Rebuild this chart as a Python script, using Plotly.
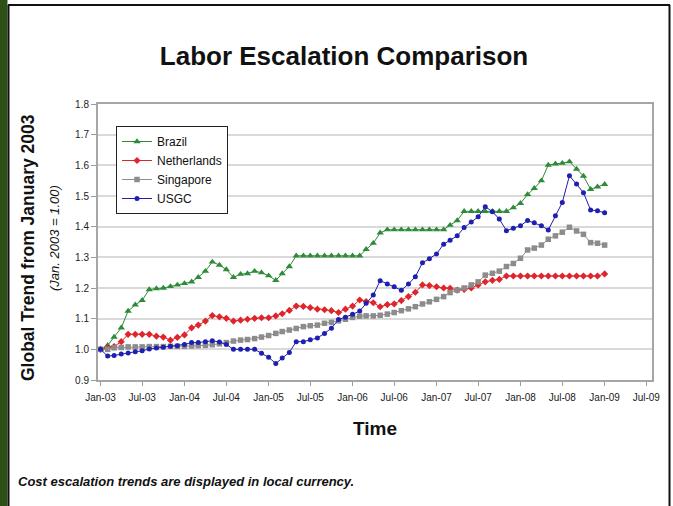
import pandas as pd
import plotly.graph_objects as go

# Monthly observations, Jan-2003 .. Jan-2009 (index: Jan. 2003 = 1.00)
months = pd.date_range("2003-01-01", "2009-01-01", freq="MS")

brazil = [
    1.000, 1.013, 1.040, 1.070, 1.125, 1.145, 1.160, 1.195, 1.198, 1.200, 1.205, 1.210,
    1.215, 1.220, 1.235, 1.255, 1.285, 1.275, 1.260, 1.235, 1.245, 1.247, 1.255, 1.250,
    1.240, 1.225, 1.247, 1.270, 1.305, 1.305, 1.305, 1.305, 1.305, 1.305, 1.305, 1.305,
    1.305, 1.305, 1.326, 1.346, 1.380, 1.390, 1.390, 1.390, 1.390, 1.390, 1.390, 1.390,
    1.390, 1.390, 1.405, 1.420, 1.450, 1.450, 1.450, 1.450, 1.450, 1.450, 1.450, 1.462,
    1.476, 1.505, 1.525, 1.550, 1.601, 1.605, 1.607, 1.612, 1.588, 1.565, 1.522, 1.530,
    1.538,
]
netherlands = [
    1.000, 1.006, 1.009, 1.025, 1.049, 1.049, 1.049, 1.049, 1.043, 1.040, 1.030, 1.039,
    1.047, 1.070, 1.079, 1.092, 1.110, 1.106, 1.101, 1.092, 1.095, 1.098, 1.101, 1.103,
    1.103, 1.109, 1.116, 1.127, 1.141, 1.140, 1.136, 1.131, 1.129, 1.126, 1.120, 1.131,
    1.141, 1.161, 1.156, 1.152, 1.139, 1.146, 1.148, 1.159, 1.172, 1.186, 1.210, 1.208,
    1.204, 1.200, 1.199, 1.193, 1.195, 1.200, 1.210, 1.220, 1.225, 1.228, 1.239, 1.239,
    1.239, 1.239, 1.239, 1.239, 1.239, 1.239, 1.239, 1.239, 1.239, 1.239, 1.239, 1.239,
    1.246,
]
singapore = [
    1.000, 1.000, 1.005, 1.006, 1.008, 1.008, 1.008, 1.009, 1.009, 1.009, 1.010, 1.010,
    1.010, 1.011, 1.012, 1.013, 1.015, 1.018, 1.022, 1.027, 1.030, 1.032, 1.035, 1.040,
    1.045, 1.052, 1.058, 1.063, 1.068, 1.074, 1.077, 1.079, 1.085, 1.088, 1.093, 1.098,
    1.104, 1.108, 1.109, 1.109, 1.111, 1.115, 1.120, 1.126, 1.132, 1.139, 1.148, 1.155,
    1.163, 1.172, 1.185, 1.193, 1.200, 1.210, 1.220, 1.242, 1.248, 1.255, 1.270, 1.280,
    1.297, 1.324, 1.330, 1.340, 1.359, 1.370, 1.382, 1.398, 1.386, 1.375, 1.348, 1.346,
    1.340,
]
usgc = [
    1.000, 0.978, 0.980, 0.985, 0.988, 0.992, 0.995, 1.001, 1.004, 1.007, 1.010, 1.012,
    1.016, 1.022, 1.022, 1.025, 1.028, 1.024, 1.016, 1.000, 1.000, 1.000, 1.000, 0.987,
    0.974, 0.954, 0.972, 0.990, 1.025, 1.025, 1.031, 1.037, 1.052, 1.069, 1.097, 1.105,
    1.114, 1.125, 1.150, 1.177, 1.224, 1.213, 1.204, 1.193, 1.213, 1.237, 1.282, 1.295,
    1.311, 1.343, 1.356, 1.370, 1.397, 1.415, 1.432, 1.465, 1.449, 1.425, 1.387, 1.395,
    1.403, 1.420, 1.413, 1.403, 1.389, 1.436, 1.479, 1.566, 1.539, 1.511, 1.454, 1.452,
    1.445,
]

tick_dates = pd.date_range("2003-01-01", "2009-07-01", freq="6MS")
tick_labels = ["Jan-03", "Jul-03", "Jan-04", "Jul-04", "Jan-05", "Jul-05", "Jan-06",
               "Jul-06", "Jan-07", "Jul-07", "Jan-08", "Jul-08", "Jan-09", "Jul-09"]

series = [
    ("Brazil", brazil, "#2e8b37", "triangle-up", 6.5),
    ("Netherlands", netherlands, "#e0242b", "diamond", 5.5),
    ("Singapore", singapore, "#8c8c8c", "square", 5.5),
    ("USGC", usgc, "#1f1fb0", "circle", 5),
]

W, H = 673, 506
L, R, T, B = 98, 21, 104, 126
PW, PH = W - L - R, H - T - B


def px(x):
    return (x - L) / PW


def py(y):
    return (H - B - y) / PH


FONT = "Liberation Sans, Arial, sans-serif"

fig = go.Figure()
for name, vals, color, sym, size in series:
    fig.add_trace(go.Scatter(
        x=months, y=vals, name=name, mode="lines+markers",
        line=dict(color=color, width=1),
        marker=dict(symbol=sym, size=size, color=color),
    ))

fig.update_layout(
    width=W, height=H,
    margin=dict(l=L, r=R, t=T, b=B, pad=0),
    paper_bgcolor="white", plot_bgcolor="white",
    font=dict(family=FONT, color="#1a1a1a"),
    title=dict(text="<b>Labor Escalation Comparison</b>", x=344 / W, xanchor="center",
               y=1 - 56 / H, yanchor="middle", yref="container",
               font=dict(size=26, color="#111")),
    showlegend=True,
    legend=dict(x=px(116), y=py(126), xanchor="left", yanchor="top",
                bgcolor="white", bordercolor="#222", borderwidth=1,
                font=dict(size=12, color="#111"), tracegroupgap=0),
    xaxis=dict(
        type="date", range=["2002-12-21", "2009-07-26"],
        tickvals=tick_dates, ticktext=tick_labels,
        ticks="outside", ticklen=4, tickcolor="#9a9a9a", tickwidth=1,
        ticklabelstandoff=3,
        showgrid=False, zeroline=False,
        showline=True, linecolor="#a6a6a6", linewidth=2, mirror=True,
        tickfont=dict(size=10, color="#222"),
        title=dict(text="<b>Time</b>", font=dict(size=19, color="#111"), standoff=20),
    ),
    yaxis=dict(
        range=[0.9, 1.8], dtick=0.1, tick0=0.9, tickformat=".1f",
        ticks="outside", ticklen=5, tickcolor="#9a9a9a", tickwidth=1,
        showgrid=True, gridcolor="#d9d9d9", gridwidth=1.5, zeroline=False,
        showline=True, linecolor="#a6a6a6", linewidth=2, mirror=True,
        tickfont=dict(size=10, color="#222"),
    ),
)

# Axis caption, sub-caption and footnote
fig.add_annotation(text="<b>Global Trend from January 2003</b>", textangle=-90,
                   xref="paper", yref="paper", x=px(28), y=py(248),
                   xanchor="center", yanchor="middle", showarrow=False,
                   font=dict(size=17.5, color="#111"))
fig.add_annotation(text="<i>(Jan. 2003 = 1.00)</i>", textangle=-90,
                   xref="paper", yref="paper", x=px(54), y=py(238),
                   xanchor="center", yanchor="middle", showarrow=False,
                   font=dict(size=13, color="#111"))
fig.add_annotation(text="<b><i>Cost escalation trends are displayed in local currency.</i></b>",
                   xref="paper", yref="paper", x=px(16), y=py(481),
                   xanchor="left", yanchor="middle", showarrow=False,
                   font=dict(size=13, color="#111"))

# Slide frame: green edge strip and black border lines
fig.add_shape(type="rect", xref="paper", yref="paper",
              x0=px(0), x1=px(7.5), y0=py(H), y1=py(0),
              fillcolor="#2d5016", line=dict(width=0), layer="below")
for x0, y0, x1, y1 in [(8.5, 5, 8.5, H), (8, 5, 670, 5), (669.5, 5, 669.5, H)]:
    fig.add_shape(type="line", xref="paper", yref="paper",
                  x0=px(x0), y0=py(y0), x1=px(x1), y1=py(y1),
                  line=dict(color="#111", width=2))

fig.write_html("out.html")
